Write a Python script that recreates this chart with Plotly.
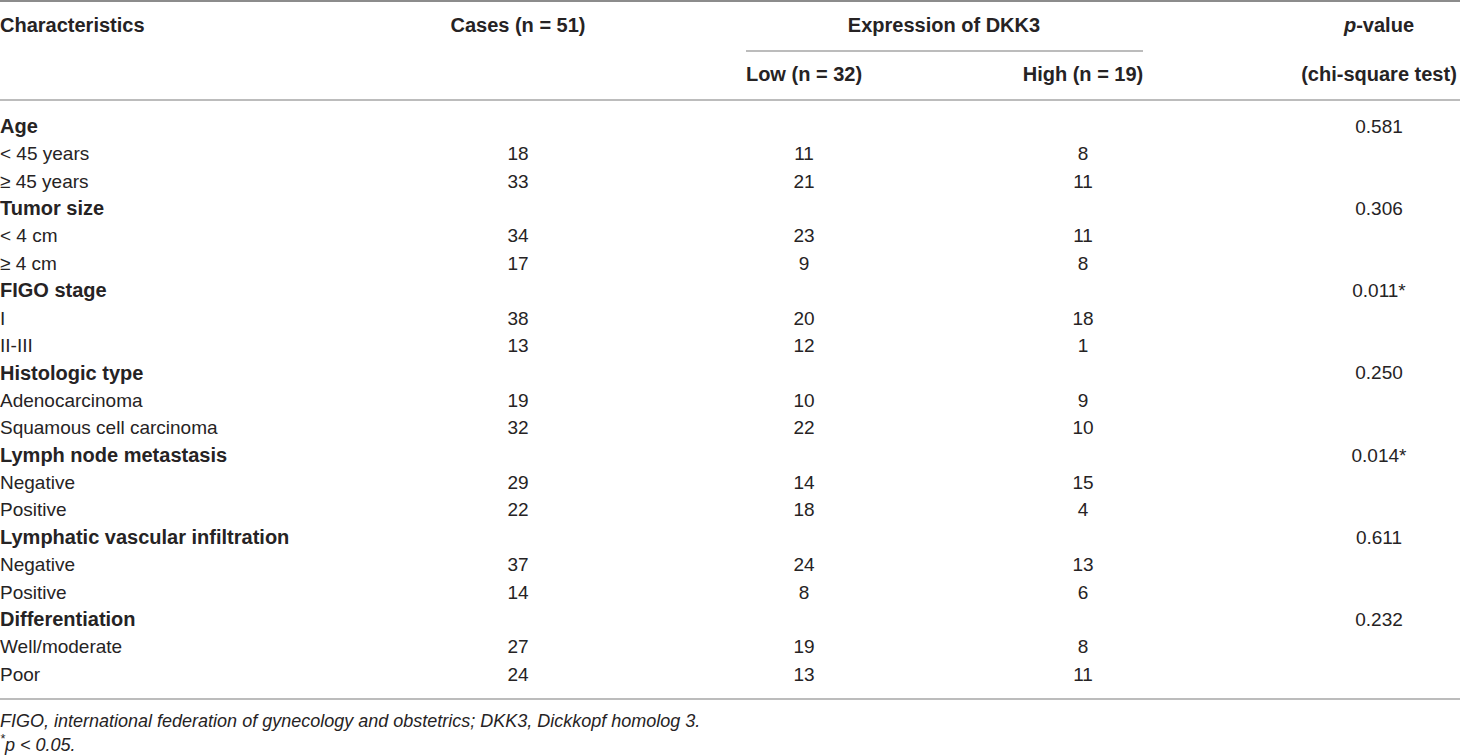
import plotly.graph_objects as go

# table content
groups = ["Age", "Tumor size", "FIGO stage", "Histologic type", "Lymph node metastasis",
          "Lymphatic vascular infiltration", "Differentiation"]
p_values = ["0.581", "0.306", "0.011*", "0.250", "0.014*", "0.611", "0.232"]
subgroups = [["< 45 years", "≥ 45 years"], ["< 4 cm", "≥ 4 cm"], ["I", "II-III"],
             ["Adenocarcinoma", "Squamous cell carcinoma"], ["Negative", "Positive"],
             ["Negative", "Positive"], ["Well/moderate", "Poor"]]
cases = [[18, 33], [34, 17], [38, 13], [19, 32], [29, 22], [37, 14], [27, 24]]
low = [[11, 21], [23, 9], [20, 12], [10, 22], [14, 18], [24, 8], [19, 13]]
high = [[8, 11], [11, 8], [18, 1], [9, 10], [15, 4], [13, 6], [8, 11]]

headers_top = ["Characteristics", "Cases (n = 51)", "Expression of DKK3", "<i>p</i>-value"]
headers_sub = ["Low (n = 32)", "High (n = 19)", "(chi-square test)"]
footnotes = ["FIGO, international federation of gynecology and obstetrics; DKK3, Dickkopf homolog 3.",
             "<sup>*</sup>p < 0.05."]

# layout (pixel space)
W, H = 1460, 756
x_label, x_cases, x_low, x_high, x_p, x_expr = 0, 518, 804, 1083, 1379, 944
y_head1, y_head2 = 27, 76
y_first, row_h = 128, 27.4
ink = "#262324"
font_fam = "Liberation Sans, Arial, Helvetica, sans-serif"

fig = go.Figure()

# group rows and subgroup rows
g_y, g_txt, g_p = [], [], []
s_y, s_txt, s_cases, s_low, s_high = [], [], [], [], []
for gi, g in enumerate(groups):
    row = gi * 3
    g_y.append(y_first + row * row_h)
    g_txt.append(g)
    g_p.append(p_values[gi])
    for si in range(2):
        s_y.append(y_first + (row + 1 + si) * row_h)
        s_txt.append(subgroups[gi][si])
        s_cases.append(str(cases[gi][si]))
        s_low.append(str(low[gi][si]))
        s_high.append(str(high[gi][si]))

reg = dict(family=font_fam, size=19, color=ink)
bold = dict(family=font_fam, size=20, color=ink, weight="bold")

fig.add_trace(go.Scatter(x=[x_label] * len(g_y), y=g_y, text=g_txt, mode="text",
                         textposition="middle right", textfont=bold, hoverinfo="skip"))
fig.add_trace(go.Scatter(x=[x_p] * len(g_y), y=g_y, text=g_p, mode="text",
                         textposition="middle center", textfont=reg, hoverinfo="skip"))
fig.add_trace(go.Scatter(x=[x_label] * len(s_y), y=s_y, text=s_txt, mode="text",
                         textposition="middle right", textfont=reg, hoverinfo="skip"))
for xc, vals in [(x_cases, s_cases), (x_low, s_low), (x_high, s_high)]:
    fig.add_trace(go.Scatter(x=[xc] * len(s_y), y=s_y, text=vals, mode="text",
                             textposition="middle center", textfont=reg, hoverinfo="skip"))

# headers
fig.add_trace(go.Scatter(x=[x_label], y=[y_head1], text=[headers_top[0]], mode="text",
                         textposition="middle right", textfont=bold, hoverinfo="skip"))
fig.add_trace(go.Scatter(x=[x_cases, x_expr, x_p], y=[y_head1] * 3, text=headers_top[1:], mode="text",
                         textposition="middle center", textfont=bold, hoverinfo="skip"))
fig.add_trace(go.Scatter(x=[x_low, x_high, x_p], y=[y_head2] * 3, text=headers_sub, mode="text",
                         textposition="middle center", textfont=bold, hoverinfo="skip"))

# footnotes
fig.add_trace(go.Scatter(x=[x_label] * 2, y=[722, 746], text=["<i>%s</i>" % f for f in footnotes],
                         mode="text", textposition="middle right",
                         textfont=dict(family=font_fam, size=18, color=ink), hoverinfo="skip"))

# rules
line_c = "#a6a6a6"
fig.add_shape(type="line", x0=0, x1=W, y0=1, y1=1, line=dict(color="#8c8c8c", width=2))
fig.add_shape(type="line", x0=746, x1=1143, y0=51, y1=51, line=dict(color=line_c, width=1.5))
fig.add_shape(type="line", x0=0, x1=W, y0=100, y1=100, line=dict(color=line_c, width=1.5))
fig.add_shape(type="line", x0=0, x1=W, y0=699, y1=699, line=dict(color=line_c, width=1.5))

fig.update_layout(width=W, height=H, margin=dict(l=0, r=0, t=0, b=0),
                  plot_bgcolor="white", paper_bgcolor="white", showlegend=False,
                  xaxis=dict(range=[0, W], visible=False, fixedrange=True),
                  yaxis=dict(range=[H, 0], visible=False, fixedrange=True))

fig.write_html("out.html", config={"displayModeBar": False},
               post_script="document.body.style.margin='0';document.body.style.overflow='hidden';")
